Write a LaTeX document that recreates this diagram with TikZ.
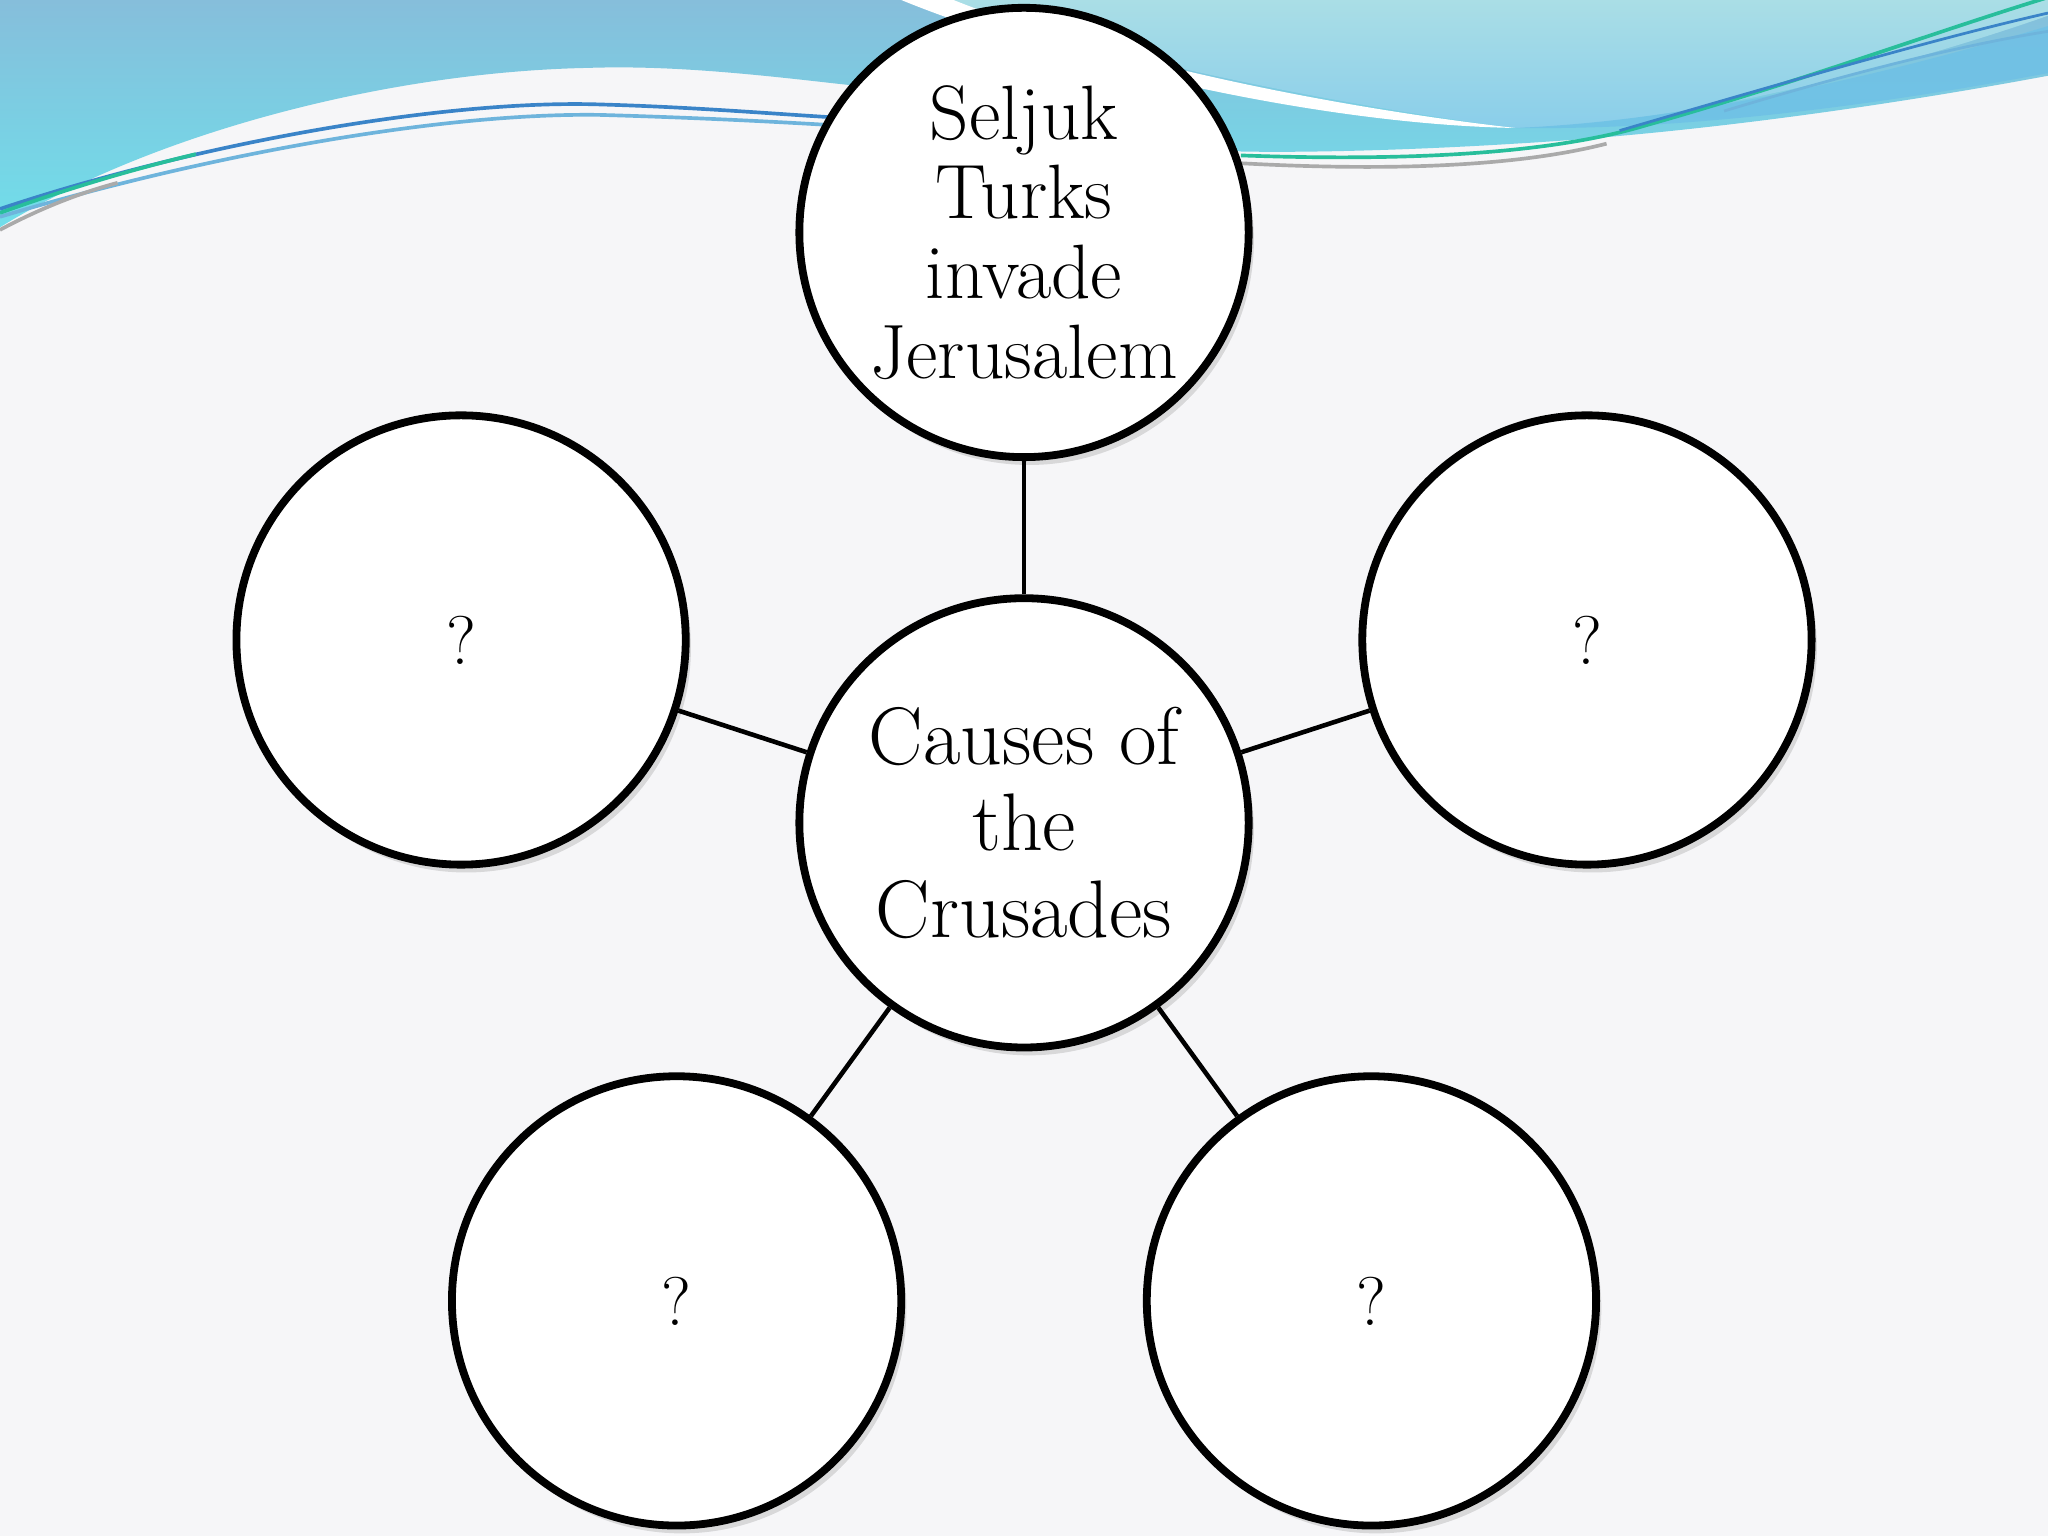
\documentclass[tikz,border=0pt]{standalone}
\usepackage{tikz}
\usetikzlibrary{positioning, shadows}
\usepackage{xcolor}
\definecolor{bgpaper}{RGB}{246,246,248}
\definecolor{wavesteel}{RGB}{134,190,219}
\definecolor{wavecyan}{RGB}{112,222,234}
\definecolor{wavepale}{RGB}{170,222,230}
\definecolor{wavesky}{RGB}{138,206,234}
\definecolor{waveband}{RGB}{110,192,230}
\definecolor{lineblue}{RGB}{58,132,200}
\definecolor{linelight}{RGB}{110,180,220}
\definecolor{lineteal}{RGB}{40,190,155}
\definecolor{linegray}{RGB}{170,170,170}

\tikzset{
    bubble/.style={circle, draw=black, line width=1.7pt, fill=white,
                   minimum size=3.44cm, inner sep=0pt, align=center,
                   drop shadow={shadow xshift=0.4mm, shadow yshift=-0.6mm,
                                fill=black, opacity=0.12}},
    spoke/.style={line width=1pt, draw=black},
    wave/.style={line width=0.8pt}
}

\begin{document}
\begin{tikzpicture}
    % page and top waves
    \fill[bgpaper] (0,0) rectangle (15.68,-11.76);
    \useasboundingbox (0,0) rectangle (15.68,-11.76);
    \shade[top color=wavesteel, bottom color=wavecyan]
      (0,0) -- (15.68,0) -- (15.68,-0.58)
      .. controls (14.5,-0.80) and (13.0,-1.02) .. (11.6,-1.10)
      .. controls (10.8,-1.15) and (10.0,-1.17) .. (9.5,-1.16)
      .. controls (8.3,-1.0) and (7.2,-0.72) .. (6.4,-0.64)
      .. controls (5.7,-0.56) and (5.1,-0.50) .. (4.5,-0.52)
      .. controls (3.0,-0.55) and (1.2,-1.0) .. (0,-1.74) -- cycle;
    \shade[top color=wavepale, bottom color=wavesky]
      (7.1,0) -- (15.68,0) -- (15.68,-0.12)
      .. controls (14.6,-0.50) and (12.9,-0.95) .. (11.6,-0.98)
      .. controls (10.2,-0.80) and (8.5,-0.45) .. (7.1,0) -- cycle;
    \fill[white]
      (6.9,0) .. controls (8.0,-0.45) and (10.0,-0.95) .. (11.6,-0.98)
      .. controls (10.2,-0.82) and (8.5,-0.48) .. (7.3,0) -- cycle;
    \fill[waveband, opacity=0.8]
      (11.6,-0.98) .. controls (13.0,-0.92) and (14.5,-0.55) .. (15.68,-0.20)
      -- (15.68,-0.56) .. controls (14.5,-0.78) and (13.0,-1.0) .. (11.6,-0.98) -- cycle;
    \draw[wave, lineblue]
      (0,-1.60) .. controls (1.5,-1.10) and (3.4,-0.76) .. (4.6,-0.80)
      .. controls (5.3,-0.82) and (5.9,-0.87) .. (6.4,-0.90);
    \draw[wave, linelight]
      (0,-1.66) .. controls (1.6,-1.18) and (3.4,-0.86) .. (4.6,-0.88)
      .. controls (5.3,-0.90) and (5.9,-0.93) .. (6.4,-0.96);
    \draw[wave, lineteal]
      (0,-1.63) .. controls (0.5,-1.45) and (1.0,-1.30) .. (1.5,-1.18);
    \draw[wave, linegray]
      (0,-1.76) .. controls (0.3,-1.60) and (0.6,-1.48) .. (0.9,-1.40);
    \draw[wave, lineteal]
      (9.5,-1.19) .. controls (10.6,-1.23) and (11.8,-1.20) .. (12.6,-0.96)
      .. controls (13.8,-0.62) and (14.8,-0.25) .. (15.68,0.02);
    \draw[wave, linegray]
      (9.5,-1.25) .. controls (10.6,-1.31) and (11.6,-1.28) .. (12.3,-1.10);
    \draw[wave, lineblue, line width=0.6pt]
      (12.4,-1.00) .. controls (13.6,-0.65) and (14.8,-0.30) .. (15.68,-0.10);
    \draw[wave, linelight, line width=0.6pt]
      (13.2,-0.85) .. controls (14.2,-0.55) and (15.0,-0.35) .. (15.68,-0.24);

    % circles
    \node[bubble, font=\fontsize{17.8}{18.8}\selectfont] (causes) at (7.84,-6.30)
      {Causes of\\the\\Crusades};
    \node[bubble, font=\fontsize{16.8}{17.4}\selectfont] (seljuk) at (7.84,-1.78)
      {Seljuk\\Turks\\invade\\Jerusalem};
    \node[bubble, font=\fontsize{15}{16}\selectfont] (qleft) at (3.53,-4.90) {?};
    \node[bubble, font=\fontsize{15}{16}\selectfont] (qright) at (12.15,-4.90) {?};
    \node[bubble, font=\fontsize{15}{16}\selectfont] (qbotleft) at (5.18,-9.96) {?};
    \node[bubble, font=\fontsize{15}{16}\selectfont] (qbotright) at (10.50,-9.96) {?};

    % connectors
    \draw[spoke] (causes) -- (seljuk);
    \draw[spoke] (causes) -- (qleft);
    \draw[spoke] (causes) -- (qright);
    \draw[spoke] (causes) -- (qbotleft);
    \draw[spoke] (causes) -- (qbotright);
\end{tikzpicture}
\end{document}
